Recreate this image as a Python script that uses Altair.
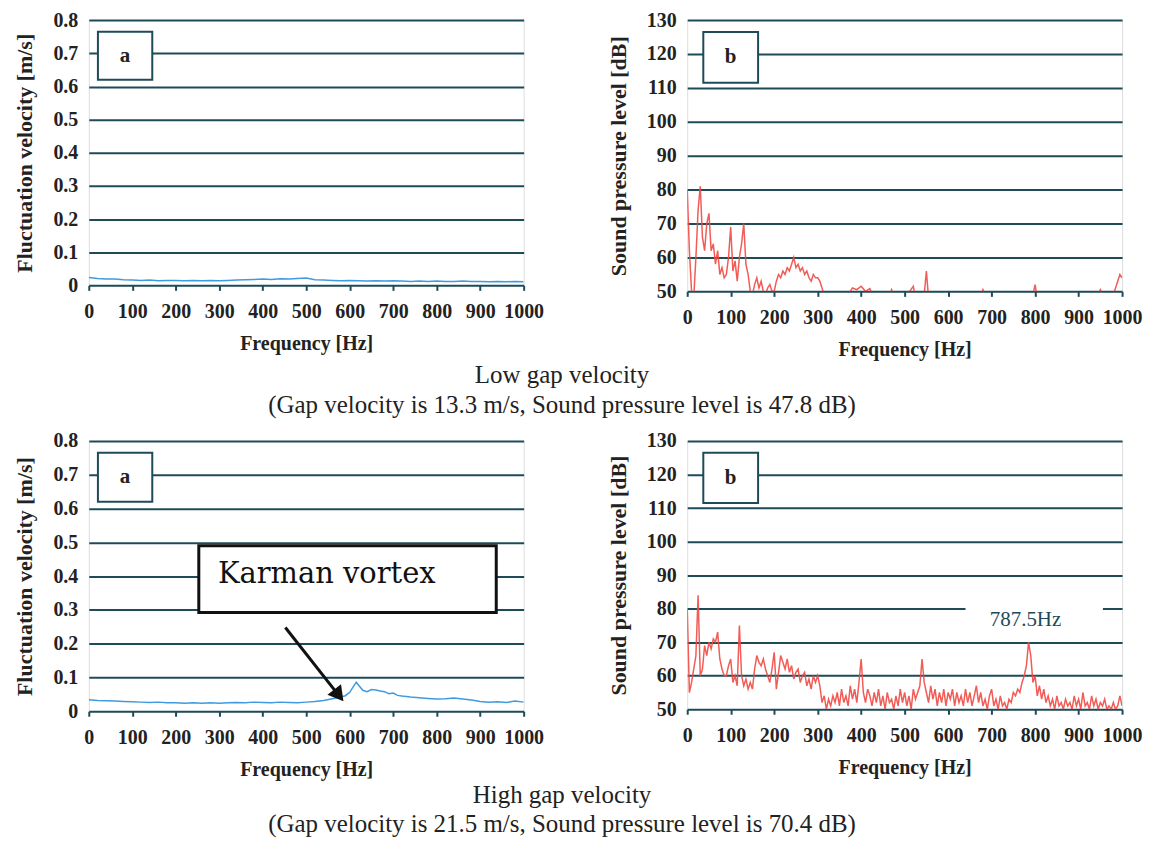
import altair as alt
import pandas as pd

# ---------------- data ----------------
# Low gap velocity: fluctuation velocity spectrum
vel_low_f = [0, 20, 40, 60, 80, 100, 120, 140, 160, 180, 200, 220, 240, 260, 280, 300, 320, 340, 360, 380,
             400, 420, 440, 460, 480, 500, 520, 540, 560, 580, 600, 620, 640, 660, 680, 700, 720, 740, 760, 780,
             800, 820, 840, 860, 880, 900, 920, 940, 960, 980, 1000]
vel_low_v = [0.024, 0.021, 0.019, 0.019, 0.017, 0.016, 0.015, 0.016, 0.014, 0.015, 0.015, 0.014, 0.015, 0.014,
             0.015, 0.014, 0.015, 0.016, 0.017, 0.018, 0.019, 0.018, 0.020, 0.019, 0.021, 0.022, 0.017, 0.016,
             0.015, 0.014, 0.015, 0.014, 0.013, 0.014, 0.013, 0.014, 0.013, 0.012, 0.013, 0.012, 0.013, 0.012,
             0.012, 0.013, 0.012, 0.012, 0.011, 0.012, 0.011, 0.012, 0.011]

# High gap velocity: fluctuation velocity spectrum
vel_high_f = [0, 20, 40, 60, 80, 100, 120, 140, 160, 180, 200, 220, 240, 260, 280, 300, 320, 340, 360, 380,
              400, 420, 440, 460, 480, 500, 520, 540, 560, 575, 590, 600, 608, 615, 622, 630, 640, 650, 660,
              670, 680, 690, 700, 710, 720, 740, 760, 780, 800, 820, 840, 860, 880, 900, 920, 940, 960, 980, 1000]
vel_high_v = [0.034, 0.032, 0.031, 0.030, 0.029, 0.028, 0.027, 0.026, 0.027, 0.025, 0.025, 0.024, 0.025, 0.024,
              0.025, 0.024, 0.025, 0.026, 0.025, 0.027, 0.026, 0.025, 0.027, 0.026, 0.025, 0.027, 0.029, 0.032,
              0.037, 0.041, 0.046, 0.056, 0.072, 0.086, 0.075, 0.062, 0.058, 0.064, 0.063, 0.060, 0.058, 0.052,
              0.054, 0.047, 0.045, 0.042, 0.040, 0.038, 0.036, 0.037, 0.039, 0.036, 0.033, 0.029, 0.027, 0.028,
              0.026, 0.030, 0.027]

# Low gap velocity: sound pressure level spectrum
spl_low_f = [0, 5, 10, 15, 20, 25, 30, 35, 40, 45, 50, 55, 60, 65, 70, 75, 80, 85, 90, 95,
             100, 105, 110, 115, 120, 125, 130, 135, 140, 145, 150, 155, 160, 165, 170, 175, 180, 185, 190, 195,
             200, 205, 210, 215, 220, 225, 230, 235, 240, 245, 250, 255, 260, 265, 270, 275, 280, 285, 290, 295,
             300, 305, 310, 315, 320, 330, 350, 370, 380, 390, 400, 410, 420, 430, 460, 470, 480, 500, 520, 525,
             545, 550, 555, 600, 670, 680, 690, 780, 795, 800, 805, 900, 940, 950, 960, 980, 990, 995, 1000]
spl_low_v = [80, 62, 50, 48, 60, 74, 81, 66, 62, 70, 73, 62, 64, 58, 62, 55, 57, 54, 55, 60,
             69, 56, 59, 53, 60, 64, 70, 58, 55, 50, 49, 52, 54, 51, 53, 50, 49, 51, 52, 50,
             50, 53, 55, 54, 56, 55, 57, 56, 58, 60, 57, 58, 56, 57, 55, 56, 54, 53, 55, 54,
             54, 53, 51, 49, 47, 48, 47, 49, 51, 50.5, 51.5, 50, 50.8, 48, 47, 50.5, 47, 48, 51.5, 48,
             49, 56, 48, 47, 47, 50.5, 47, 47, 49, 52, 48, 47, 48, 50.5, 48, 49, 53, 55, 54]

# High gap velocity: sound pressure level spectrum (5 Hz resolution)
spl_high_f = list(range(0, 1001, 5))
spl_high_v = [80, 55, 58, 62, 66, 84, 60, 62, 69, 66, 70, 68, 71, 70, 73, 65, 62, 60, 60, 63,
              65, 58, 60, 57, 75, 60, 57, 59, 56, 58, 56, 62, 66, 64, 63, 65, 62, 60, 58, 62,
              67, 56, 61, 66, 64, 62, 65, 61, 63, 59, 61, 62, 58, 60, 61, 57, 59, 56, 60, 58,
              60, 57, 52, 54, 50, 53, 51, 54, 52, 55, 51, 56, 52, 54, 51, 57, 53, 56, 52, 58,
              65, 55, 52, 56, 54, 51, 55, 52, 56, 51, 54, 50, 55, 52, 53, 50, 54, 51, 56, 52,
              55, 51, 54, 50, 56, 53, 55, 57, 65, 58, 55, 52, 57, 53, 56, 51, 55, 52, 56, 51,
              55, 53, 56, 51, 55, 52, 54, 51, 56, 52, 55, 51, 54, 57, 52, 55, 51, 53, 50, 54,
              56, 51, 53, 50, 54, 51, 52, 50, 53, 52, 55, 54, 56, 55, 58, 60, 63, 70, 66, 58,
              60, 54, 57, 53, 56, 52, 54, 51, 53, 50, 54, 51, 52, 50, 53, 51, 52, 50, 54, 51,
              53, 50, 55, 51, 52, 50, 54, 51, 53, 50, 52, 51, 53, 50, 51, 50, 52, 50, 51, 54,
              51]

x_ticks = [0, 100, 200, 300, 400, 500, 600, 700, 800, 900, 1000]
vel_ticks = [0, 0.1, 0.2, 0.3, 0.4, 0.5, 0.6, 0.7, 0.8]
spl_ticks = [50, 60, 70, 80, 90, 100, 110, 120, 130]

x_title = "Frequency [Hz]"
vel_title = "Fluctuation velocity [m/s]"
spl_title = "Sound pressure level [dB]"

caption_low = ["Low gap velocity", "(Gap velocity is 13.3 m/s, Sound pressure level is 47.8 dB)"]
caption_high = ["High gap velocity", "(Gap velocity is 21.5 m/s, Sound pressure level is 70.4 dB)"]

# annotation boxes (data coordinates)
box_a = {"x0": [21], "x1": [146], "y0": [0.62], "y1": [0.765], "label": ["a"]}
box_b = {"x0": [37], "x1": [163], "y0": [111.5], "y1": [126.5], "label": ["b"]}
karman_box = {"x0": [253], "x1": [937], "y0": [0.292], "y1": [0.49], "label": ["Karman vortex"], "tx": [297], "ty": [0.405]}
arrow = {"x0": [452], "x1": [573], "y0": [0.248], "y1": [0.05], "hx": [575], "hy": [0.047]}
peak_box = {"x0": [640], "x1": [956], "y0": [72.5], "y1": [81.5], "label": ["787.5Hz"], "tx": [778], "ty": [76.5]}

# ---------------- style ----------------
GRID = "#1d4b57"
SERIF = "Liberation Serif"
W = 436
BLUE = "#2a8fdc"
RED = "#ef4a45"


def xenc(field, **kw):
    return alt.X(field, type="quantitative", scale=alt.Scale(domain=[0, 1000], nice=False),
                 axis=alt.Axis(values=x_ticks, grid=False, domain=False, ticks=True, tickColor=GRID,
                               tickWidth=2, tickSize=5, labelFont=SERIF, labelFontSize=20, format="d",
                               labelFontWeight="bold", labelColor="#222", labelPadding=11,
                               labelOverlap=False, labelFlush=False,
                               title=x_title, titleFont=SERIF, titleFontSize=20,
                               titleFontWeight="bold", titleColor="#222", titlePadding=12), **kw)


def yenc(field, domain, ticks, title, fmt):
    return alt.Y(field, type="quantitative", scale=alt.Scale(domain=domain, nice=False),
                 axis=alt.Axis(values=ticks, grid=True, gridColor=GRID, gridWidth=2, domain=False,
                               ticks=False, labelFont=SERIF, labelFontSize=20, labelFontWeight="bold",
                               labelColor="#222", labelPadding=11, format=fmt, labelOverlap=False,
                               title=title, titleFont=SERIF, titleFontSize=22, titleFontWeight="bold",
                               titleColor="#222", titlePadding=16))


def panel(freqs, vals, domain, ticks, title, fmt, color, box, height, extra=None):
    df = pd.DataFrame({"f": freqs, "v": vals})
    line = alt.Chart(df).mark_line(color=color, strokeWidth=1.5, clip=True, opacity=0.9).encode(
        x=xenc("f"), y=yenc("v", domain, ticks, title, fmt))
    bdf = pd.DataFrame(box)
    rect = alt.Chart(bdf).mark_rect(fill="white", stroke=GRID, strokeWidth=2).encode(
        x=xenc("x0"), x2="x1", y=yenc("y0", domain, ticks, title, fmt), y2="y1")
    lab = alt.Chart(bdf).transform_calculate(xm="(datum.x0+datum.x1)/2", ym="(datum.y0+datum.y1)/2").mark_text(
        font=SERIF, fontSize=21, fontWeight="bold", color="#222").encode(
        x=xenc("xm"), y=yenc("ym", domain, ticks, title, fmt), text="label")
    layers = [line]
    if extra:
        layers += extra(domain, ticks, title, fmt)
    layers += [rect, lab]
    return alt.layer(*layers).properties(width=W, height=height)


def karman_layers(domain, ticks, title, fmt):
    kdf = pd.DataFrame(karman_box)
    adf = pd.DataFrame(arrow)
    rect = alt.Chart(kdf).mark_rect(fill="white", stroke="#111", strokeWidth=3).encode(
        x=xenc("x0"), x2="x1", y=yenc("y0", domain, ticks, title, fmt), y2="y1")
    txt = alt.Chart(kdf).mark_text(font="DejaVu Serif", fontSize=29, align="left", baseline="middle",
                                   color="#111").encode(
        x=xenc("tx"), y=yenc("ty", domain, ticks, title, fmt), text="label")
    rule = alt.Chart(adf).mark_rule(color="#111", strokeWidth=3).encode(
        x=xenc("x0"), x2="x1", y=yenc("y0", domain, ticks, title, fmt), y2="y1")
    head = alt.Chart(adf).mark_point(shape="triangle-down", filled=True, color="#111", opacity=1,
                                     size=300, angle=322).encode(
        x=xenc("hx"), y=yenc("hy", domain, ticks, title, fmt))
    return [rect, txt, rule, head]


def peak_layers(domain, ticks, title, fmt):
    pdf = pd.DataFrame(peak_box)
    rect = alt.Chart(pdf).mark_rect(fill="white").encode(
        x=xenc("x0"), x2="x1", y=yenc("y0", domain, ticks, title, fmt), y2="y1")
    txt = alt.Chart(pdf).mark_text(font=SERIF, fontSize=21, color="#1d4b57").encode(
        x=xenc("tx"), y=yenc("ty", domain, ticks, title, fmt), text="label")
    return [rect, txt]


tl = panel(vel_low_f, vel_low_v, [0, 0.8], vel_ticks, vel_title, ".1~f", BLUE, box_a, 266)
tr = panel(spl_low_f, spl_low_v, [50, 130], spl_ticks, spl_title, "d", RED, box_b, 272)
bl = panel(vel_high_f, vel_high_v, [0, 0.8], vel_ticks, vel_title, ".1~f", BLUE, box_a, 271, karman_layers)
br = panel(spl_high_f, spl_high_v, [50, 130], spl_ticks, spl_title, "d", RED, box_b, 269, peak_layers)


def cap(lines):
    return alt.TitleParams(text=lines, orient="bottom", anchor="middle", font=SERIF, fontSize=25,
                           fontWeight="normal", color="#222", offset=3, lineHeight=30, dx=-16)


row1 = alt.hconcat(tl, tr, spacing=62).properties(title=cap(caption_low))
row2 = alt.hconcat(bl, br, spacing=62).properties(title=cap(caption_high))

chart = alt.vconcat(row1, row2, spacing=12).properties(
    padding={"left": 5, "top": 0, "right": 5, "bottom": 5}
).configure_view(stroke=GRID, strokeWidth=2).configure(background="white")

chart.save("out.html", embed_options={"renderer": "svg", "actions": False})
